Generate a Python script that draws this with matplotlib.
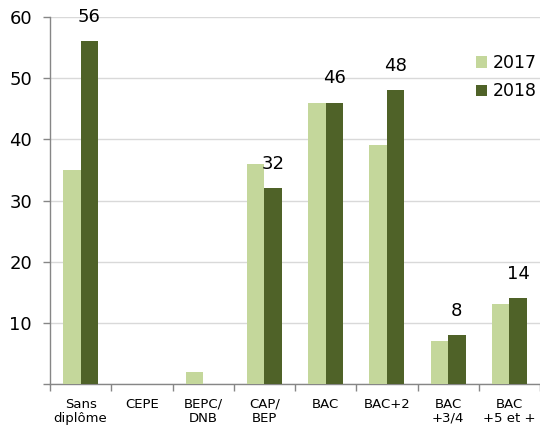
import matplotlib
matplotlib.use("Agg")
import matplotlib.pyplot as plt
import numpy as np

# données
categories = ["Sans\ndiplôme", "CEPE", "BEPC/\nDNB", "CAP/\nBEP", "BAC",
              "BAC+2", "BAC\n+3/4", "BAC\n+5 et +"]
values_2017 = [35, 0, 2, 36, 46, 39, 7, 13]
values_2018 = [56, 0, 0, 32, 46, 48, 8, 14]
labels_2018 = ["56", "", "", "32", "46", "48", "8", "14"]
y_ticks = [0, 10, 20, 30, 40, 50, 60]
y_ticklabels = ["", "10", "20", "30", "40", "50", "60"]

color_2017 = "#c4d79b"
color_2018 = "#4f6228"
axis_grey = "#868686"

plt.rcParams["font.family"] = ["DejaVu Sans"]

fig = plt.figure(figsize=(5.4, 4.3), dpi=100)
ax = fig.add_axes([50 / 540, 46 / 430, 490 / 540, 367 / 430])

x = np.arange(len(categories))
w = 0.285
ax.bar(x - w / 2, values_2017, w, color=color_2017, label="2017", zorder=3)
bars18 = ax.bar(x + w / 2, values_2018, w, color=color_2018, label="2018", zorder=3)
ax.bar_label(bars18, labels=labels_2018, padding=11, fontsize=13)

ax.set_xlim(-0.5, len(categories) - 0.5)
ax.set_ylim(0, 60)
ax.set_yticks(y_ticks)
ax.set_yticklabels(y_ticklabels, fontsize=13)
ax.set_xticks(x)
ax.set_xticklabels(categories, fontsize=9.5, linespacing=1.1)
ax.set_xticks(np.arange(len(categories) + 1) - 0.5, minor=True)
ax.tick_params(axis="x", which="major", length=0, pad=10)
ax.tick_params(axis="x", which="minor", length=5, color=axis_grey, width=1)
ax.tick_params(axis="y", length=5, color=axis_grey, width=1, pad=8)

ax.grid(axis="y", color="#d9d9d9", linewidth=1, zorder=0)
for s in ["top", "right"]:
    ax.spines[s].set_visible(False)
for s in ["left", "bottom"]:
    ax.spines[s].set_color(axis_grey)
    ax.spines[s].set_linewidth(1)

ax.legend(loc="upper left", bbox_to_anchor=(476 / 540, 1 - 54 / 430),
          bbox_transform=fig.transFigure, frameon=False, fontsize=12.5,
          handlelength=0.65, handleheight=0.65, handletextpad=0.3,
          labelspacing=0.6, borderpad=0, borderaxespad=0)

fig.savefig("out.png", dpi=100)
